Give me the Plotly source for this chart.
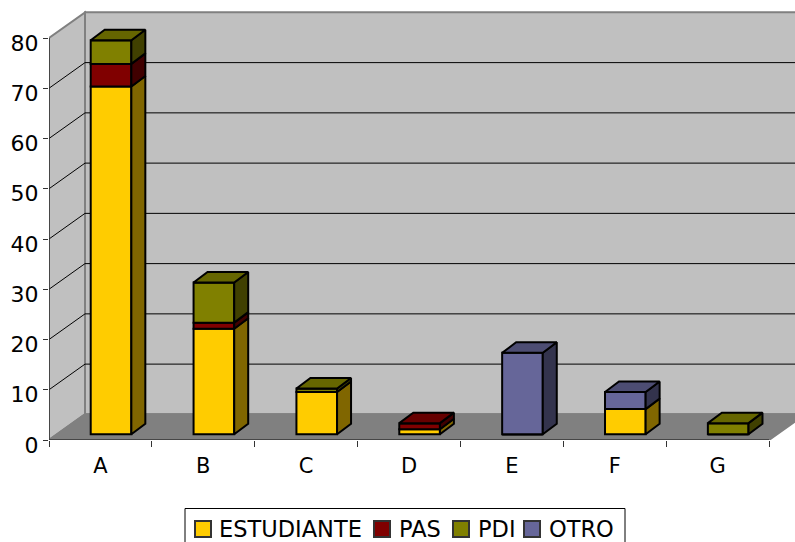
import plotly.graph_objects as go

# ── Data ──────────────────────────────────────────────────────────────────────
CATEGORIES = ["A", "B", "C", "D", "E", "F", "G"]
ESTUDIANTE = [69.2, 21, 8.4, 1, 0, 5, 0]
PAS = [4.5, 1.2, 0, 1.2, 0, 0, 0]
PDI = [4.7, 8, 0.7, 0, 0, 0, 2.2]
OTRO = [0, 0, 0, 0, 16.2, 3.4, 0]
Y_TICKS = [0, 10, 20, 30, 40, 50, 60, 70, 80]

SERIES = [
    # name, values, front, side, top
    ("ESTUDIANTE", ESTUDIANTE, "#FFCC00", "#806600", "#CCA300"),
    ("PAS", PAS, "#800000", "#400000", "#660000"),
    ("PDI", PDI, "#808000", "#404000", "#666600"),
    ("OTRO", OTRO, "#666699", "#33334D", "#4D4D73"),
]

# ── Fake 3D projection, in axis units ─────────────────────────────────────────
WALL_DX, WALL_DY = 0.35, 5.1     # how far the back wall sits behind the axes
BAR_DX, BAR_DY = 0.136, 2.09     # depth of one bar
BAR_SHIFT, BAR_FLOOR = 0.103, 1.15  # where bars stand on the floor
BAR_WIDTH = 0.395
N = len(CATEGORIES)
Y_MAX = Y_TICKS[-1]
FONT = "DejaVu Sans"

PLOT_LEFT, PLOT_TOP, PLOT_W, PLOT_H = 49, 8, 746, 432

fig = go.Figure()


def wall(xs, ys, color):
    path = "M" + "L".join(f"{x},{y}" for x, y in zip(xs, ys)) + "Z"
    fig.add_shape(type="path", path=path, xref="x", yref="y", layer="below",
                  fillcolor=color, line=dict(color="#808080", width=2))


wall([0, WALL_DX, WALL_DX, 0], [0, WALL_DY, Y_MAX + WALL_DY, Y_MAX], "#C0C0C0")
wall([WALL_DX, N + WALL_DX, N + WALL_DX, WALL_DX],
     [WALL_DY, WALL_DY, Y_MAX + WALL_DY, Y_MAX + WALL_DY], "#C0C0C0")
wall([0, N, N + WALL_DX, WALL_DX], [0, 0, WALL_DY, WALL_DY], "#808080")

for v in Y_TICKS[1:]:
    if v < Y_MAX:
        fig.add_shape(type="line", xref="x", yref="y", layer="below",
                      x0=0, y0=v, x1=WALL_DX, y1=v + WALL_DY,
                      line=dict(color="#000000", width=1))
        fig.add_shape(type="line", xref="x", yref="y", layer="below",
                      x0=WALL_DX, y0=v + WALL_DY, x1=N + WALL_DX, y1=v + WALL_DY,
                      line=dict(color="#000000", width=1))

# ── Stacked bars: front faces are real bars, sides and tops are polygons ──────
totals = [BAR_FLOOR] * N
polygons = []
for name, values, front, side, top in SERIES:
    bases = list(totals)
    fig.add_trace(go.Bar(
        name=name,
        x=[i + 0.5 + BAR_SHIFT for i in range(N)],
        y=values,
        base=bases,
        width=BAR_WIDTH,
        marker=dict(color=front, line=dict(color="#000000", width=2)),
        hovertext=CATEGORIES,
        showlegend=False,
    ))
    side_x, side_y = [], []
    for i, v in enumerate(values):
        if v == 0:
            continue
        x1 = i + 0.5 + BAR_SHIFT + BAR_WIDTH / 2
        y0, y1 = bases[i], bases[i] + v
        side_x += [x1, x1 + BAR_DX, x1 + BAR_DX, x1, x1, None]
        side_y += [y0, y0 + BAR_DY, y1 + BAR_DY, y1, y0, None]
        totals[i] = y1
    polygons.append((side_x, side_y, side))

for side_x, side_y, color in polygons:
    fig.add_trace(go.Scatter(x=side_x, y=side_y, mode="lines", fill="toself",
                             fillcolor=color, line=dict(color="#000000", width=2),
                             showlegend=False, hoverinfo="skip"))

# top face takes the colour of the highest segment in each column
for i in range(N):
    top_color = next(s[4] for s in reversed(SERIES) if s[1][i] > 0)
    x0 = i + 0.5 + BAR_SHIFT - BAR_WIDTH / 2
    x1 = x0 + BAR_WIDTH
    y = totals[i]
    fig.add_trace(go.Scatter(
        x=[x0, x1, x1 + BAR_DX, x0 + BAR_DX, x0],
        y=[y, y, y + BAR_DY, y + BAR_DY, y],
        mode="lines", fill="toself", fillcolor=top_color,
        line=dict(color="#000000", width=2),
        showlegend=False, hoverinfo="skip"))

# axis lines stop at 80 and at the last category, so they are not the axes' own
fig.add_trace(go.Scatter(x=[0, 0, N], y=[Y_MAX, 0, 0], mode="lines", cliponaxis=False,
                         line=dict(color="#333333", width=1.5),
                         showlegend=False, hoverinfo="skip"))


# ── Legend box: Plotly's own legend spaces its entries too widely for this ────
def page_x(px):
    return (px - PLOT_LEFT) / PLOT_W


def page_y(py):
    return (PLOT_TOP + PLOT_H - py) / PLOT_H


fig.add_shape(type="rect", xref="paper", yref="paper",
              x0=page_x(185), x1=page_x(625), y0=page_y(560), y1=page_y(508.5),
              fillcolor="#FFFFFF", line=dict(color="#000000", width=1))
LEGEND_SWATCH_LEFT = [195, 374, 453, 524]
LEGEND_TEXT_LEFT = [218, 398, 477, 548]
for (name, _, front, _, _), sx, tx in zip(SERIES, LEGEND_SWATCH_LEFT, LEGEND_TEXT_LEFT):
    fig.add_shape(type="rect", xref="paper", yref="paper",
                  x0=page_x(sx), x1=page_x(sx + 16), y0=page_y(537), y1=page_y(521),
                  fillcolor=front, line=dict(color="#333333", width=2))
    fig.add_annotation(text=name, xref="paper", yref="paper", showarrow=False,
                       x=page_x(tx), y=page_y(529), xanchor="left", yanchor="middle",
                       borderpad=0, font=dict(family=FONT, size=22.5, color="#000000"))

fig.update_layout(
    width=795, height=542,
    autosize=False,
    margin=dict(l=PLOT_LEFT, r=795 - PLOT_LEFT - PLOT_W, t=PLOT_TOP,
                b=542 - PLOT_TOP - PLOT_H),
    paper_bgcolor="#FFFFFF",
    plot_bgcolor="#FFFFFF",
    barmode="overlay",
    font=dict(family=FONT, size=21, color="#000000"),
    showlegend=False,
    xaxis=dict(
        range=[0, PLOT_W / 102.86],
        tickvals=[i + 0.5 for i in range(N)], ticktext=CATEGORIES,
        ticks="outside", ticklen=0,
        ticklabelstandoff=7,
        minor=dict(tickvals=list(range(N + 1)), ticks="outside", ticklen=6,
                   tickcolor="#333333", tickwidth=1, showgrid=False),
        showgrid=False, zeroline=False, showline=False,
    ),
    yaxis=dict(
        range=[0, PLOT_H / 5.025],
        tickvals=Y_TICKS, tickfont=dict(size=22),
        ticklabelshift=5,
        ticks="outside", ticklen=5, tickcolor="#333333", tickwidth=1,
        showgrid=False, zeroline=False, showline=False,
    ),
)

# the default body margin would push the figure 8 px in and clip its right edge
fig.write_html("out.html", config={"displayModeBar": False},
               post_script="document.body.style.margin = '0';")
